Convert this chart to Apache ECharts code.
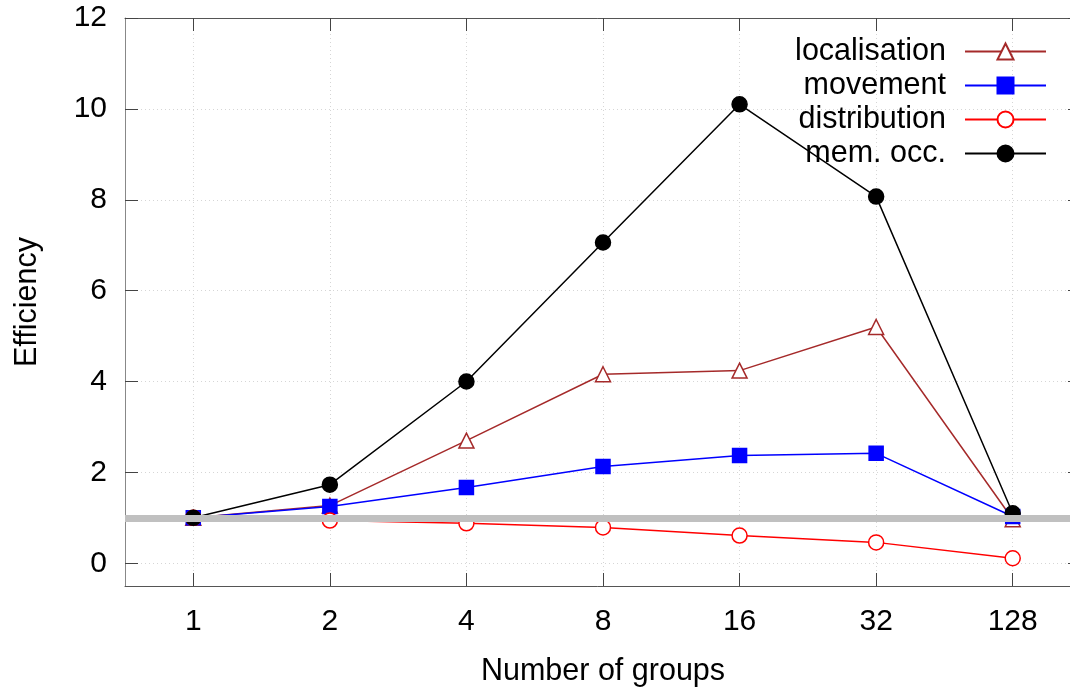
<!DOCTYPE html>
<html><head><meta charset="utf-8">
<script src="https://cdn.jsdelivr.net/npm/echarts@6/dist/echarts.min.js"></script>
<style>html,body{margin:0;padding:0;background:#fff}#c{width:1070px;height:689px}</style>
</head><body><div id="c"></div>
<script>
const categories = ['1','2','4','8','16','32','128'];
const localisation = [1.0, 1.27, 2.70, 4.16, 4.24, 5.20, 0.97];
const movement = [1.0, 1.25, 1.67, 2.13, 2.37, 2.42, 1.03];
const distribution = [1.0, 0.94, 0.88, 0.79, 0.61, 0.46, 0.11];
const memOcc = [1.0, 1.73, 4.0, 7.06, 10.1, 8.07, 1.1];
const yTicks = [0, 2, 4, 6, 8, 10, 12];
const yMin = -0.5, yMax = 12;
const refValue = 1;

const FONT = "'Liberation Sans', Arial, sans-serif";
const chart = echarts.init(document.getElementById('c'), null, {renderer: 'canvas'});
const gridLine = {show: true, lineStyle: {color: '#d6d6d6', type: [1, 3], width: 1}};
const tickStyle = {show: true, inside: true, length: 13, lineStyle: {color: '#444', width: 1}};

function mkSeries(name, data, color, symbol, size, fill) {
  return {
    name, type: 'line', data, z: 3,
    xAxisIndex: 0, yAxisIndex: 0,
    symbol, symbolSize: size, showAllSymbol: true,
    lineStyle: {color, width: 1.5},
    itemStyle: {color: fill, borderColor: color, borderWidth: 1.5},
    emphasis: {disabled: true}, animation: false
  };
}

chart.setOption({
  backgroundColor: '#fff',
  animation: false,
  textStyle: {fontFamily: FONT},
  grid: {left: 125, top: 18, width: 956, height: 568, containLabel: false, outerBoundsMode: 'none'},
  legend: {
    right: 18, top: 31, orient: 'vertical', align: 'right',
    itemWidth: 81, itemHeight: 20, itemGap: 3,
    textStyle: {fontFamily: FONT, fontSize: 30.5, color: '#000', padding: [0, 14, 0, 0]},
    data: ['localisation', 'movement', 'distribution', 'mem. occ.']
  },
  xAxis: [{
    type: 'category', data: categories, position: 'bottom',
    name: 'Number of groups', nameLocation: 'middle', nameGap: 70,
    nameTextStyle: {fontFamily: FONT, fontSize: 30.5, color: '#000'},
    axisLine: {show: true, onZero: false, lineStyle: {color: '#555', width: 1}},
    axisTick: Object.assign({alignWithLabel: true}, tickStyle),
    axisLabel: {fontFamily: FONT, fontSize: 30, color: '#000', margin: 21},
    splitLine: Object.assign({alignWithLabel: true}, gridLine)
  }, {
    type: 'category', data: categories, position: 'top',
    axisLine: {show: true, onZero: false, lineStyle: {color: '#555', width: 1}},
    axisTick: Object.assign({alignWithLabel: true}, tickStyle),
    axisLabel: {show: false}, splitLine: {show: false}
  }],
  yAxis: [{
    type: 'value', min: yMin, max: yMax, position: 'left',
    name: 'Efficiency', nameLocation: 'middle', nameGap: 82,
    nameTextStyle: {fontFamily: FONT, fontSize: 30.5, color: '#000'},
    axisLine: {show: true, onZero: false, lineStyle: {color: '#888', width: 1}},
    axisTick: Object.assign({customValues: yTicks}, tickStyle),
    axisLabel: {customValues: yTicks, fontFamily: FONT, fontSize: 30, color: '#000', margin: 18},
    splitLine: gridLine
  }, {
    type: 'value', min: yMin, max: yMax, position: 'right',
    axisLine: {show: true, onZero: false, lineStyle: {color: '#555', width: 1}},
    axisTick: Object.assign({customValues: yTicks}, tickStyle),
    axisLabel: {show: false}, splitLine: {show: false}
  }],
  series: [
    mkSeries('localisation', localisation, '#a52a2a', 'triangle', 15, '#fff'),
    mkSeries('movement', movement, '#0000ff', 'rect', 14, '#0000ff'),
    mkSeries('distribution', distribution, '#ff0000', 'circle', 15, '#fff'),
    mkSeries('mem. occ.', memOcc, '#000000', 'circle', 15, '#000'),
    {
      name: 'ref', type: 'line', data: [], z: 10, silent: true,
      markLine: {
        silent: true, symbol: 'none', z: 10, animation: false,
        label: {show: false},
        lineStyle: {color: '#c0c0c0', width: 7, type: 'solid'},
        emphasis: {disabled: true},
        data: [{yAxis: refValue}]
      }
    }
  ]
});
</script></body></html>
